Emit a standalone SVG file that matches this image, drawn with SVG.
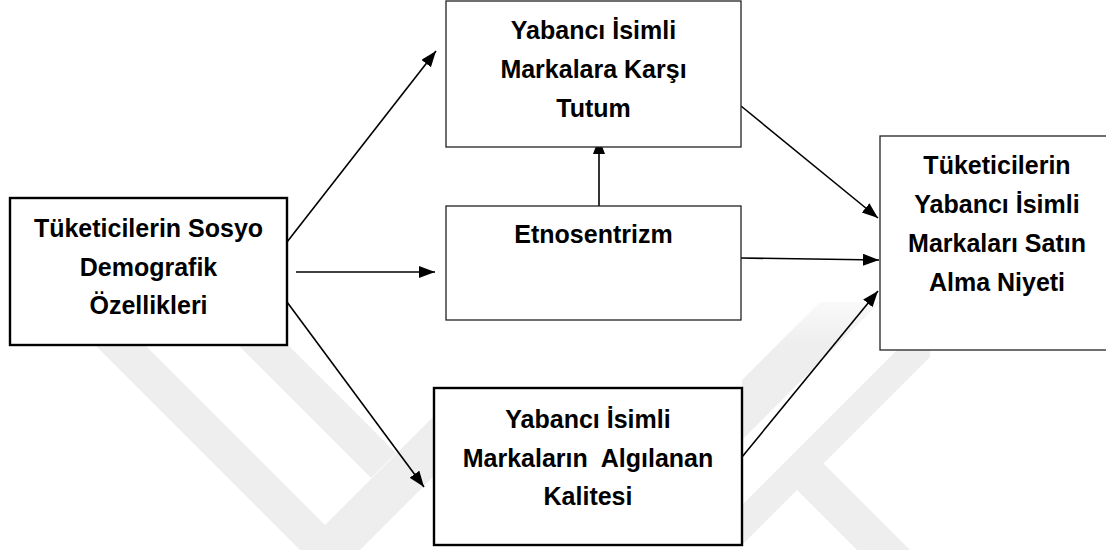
<svg xmlns="http://www.w3.org/2000/svg" width="1106" height="550" viewBox="0 0 1106 550">
<style>
.box{fill:#fff;stroke:#222;stroke-width:1.3}
.thick{fill:#fff;stroke:#000;stroke-width:2.4}
.t{font-family:"Liberation Sans",Arial,sans-serif;font-weight:bold;font-size:25px;fill:#000;text-anchor:middle}
.c{stroke:#000;stroke-width:1.6;fill:none;marker-end:url(#ah)}
.wm{fill:url(#wmg)}
</style>
<defs>
<marker id="ah" markerUnits="userSpaceOnUse" markerWidth="18" markerHeight="14" refX="16" refY="6" orient="auto">
<path d="M0,0 L16,6 L0,12 z" fill="#000"/>
</marker>
<linearGradient id="wmg" gradientUnits="userSpaceOnUse" x1="0" y1="280" x2="0" y2="345">
<stop offset="0" stop-color="#ffffff"/>
<stop offset="1" stop-color="#eeeeee"/>
</linearGradient>
</defs>
<rect width="1106" height="550" fill="#fff"/>
<g id="watermark">
<polygon class="wm" points="40,290 90,290 350,550 300,550"/>
<polygon class="wm" points="183,290 233,290 396,453 371,478"/>
<polygon class="wm" points="300,550 360,550 434,476 434,416"/>
<polygon class="wm" points="742,380 820,302 880,302 742,440"/>
<polygon class="wm" points="742,505 930,317 930,357 742,545"/>
<polygon class="wm" points="790,483 817,457 910,550 857,550"/>
</g>
<g id="connectors">
<line class="c" x1="287" y1="242" x2="436" y2="51"/>
<line class="c" x1="296" y1="272" x2="435" y2="272"/>
<line class="c" x1="287" y1="302" x2="424" y2="487"/>
<line class="c" x1="599" y1="206" x2="599" y2="138"/>
<line class="c" x1="741" y1="106" x2="878" y2="218"/>
<line class="c" x1="741" y1="258" x2="879" y2="260"/>
<line class="c" x1="742" y1="457" x2="878" y2="291"/>
</g>
<g id="node-sosyo">
<rect class="thick" x="10" y="198" width="277" height="147"/>
<text class="t" x="148.5" y="237">Tüketicilerin Sosyo</text>
<text class="t" x="148.5" y="276">Demografik</text>
<text class="t" x="148.5" y="314">Özellikleri</text>
</g>
<g id="node-tutum">
<rect class="box" x="446" y="1" width="295" height="146"/>
<text class="t" x="593.5" y="39">Yabancı İsimli</text>
<text class="t" x="593.5" y="78">Markalara Karşı</text>
<text class="t" x="593.5" y="117">Tutum</text>
</g>
<g id="node-etno">
<rect class="box" x="446" y="206" width="295" height="114"/>
<text class="t" x="593.5" y="243">Etnosentrizm</text>
</g>
<g id="node-niyet">
<rect class="box" x="880" y="136" width="240" height="214"/>
<text class="t" x="997" y="174">Tüketicilerin</text>
<text class="t" x="997" y="213">Yabancı İsimli</text>
<text class="t" x="997" y="252">Markaları Satın</text>
<text class="t" x="997" y="291">Alma Niyeti</text>
</g>
<g id="node-kalite">
<rect class="thick" x="434" y="388" width="308" height="157"/>
<text class="t" x="588" y="428">Yabancı İsimli</text>
<text class="t" x="588" y="467" xml:space="preserve">Markaların  Algılanan</text>
<text class="t" x="588" y="505">Kalitesi</text>
</g>
</svg>
